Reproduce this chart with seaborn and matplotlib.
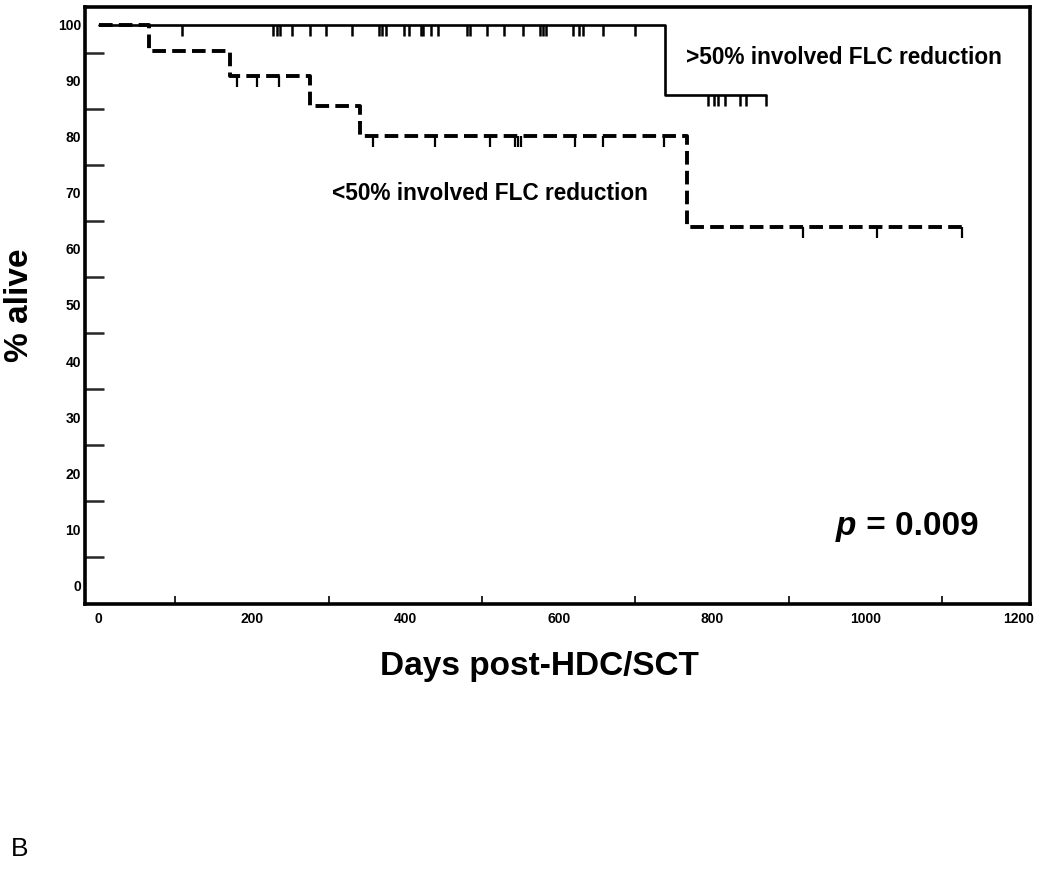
import numpy as np
import pandas as pd
import matplotlib
matplotlib.use('Agg')
import matplotlib.pyplot as plt
import seaborn as sns

# Kaplan-Meier step data
hi_times = [0, 739, 871]
hi_surv = [100, 87.5, 87.5]
hi_censor = [108, 227, 232, 236, 252, 275, 296, 330, 365, 370, 375, 398, 405,
             420, 423, 434, 443, 480, 484, 506, 528, 554, 576, 580, 584, 619,
             626, 632, 658, 700, 795, 802, 808, 817, 836, 845, 871]

lo_times = [0, 66, 171, 275, 341, 767, 1126]
lo_surv = [100, 95.4, 90.9, 85.5, 80.1, 64.0, 64.0]
lo_censor = [180, 207, 235, 358, 438, 510, 543, 547, 551, 621, 658, 737,
             919, 1015, 1126]

x_ticks = [0, 200, 400, 600, 800, 1000, 1200]
y_ticks = [0, 10, 20, 30, 40, 50, 60, 70, 80, 90, 100]


def step_value(times, surv, t):
    idx = np.searchsorted(times, t, side='right') - 1
    return np.array(surv)[idx]


sns.set_style('white')
plt.rcParams['font.family'] = ['Liberation Sans', 'DejaVu Sans']
plt.rcParams['text.color'] = 'black'
plt.rcParams['axes.labelcolor'] = 'black'

fig = plt.figure(figsize=(10.5, 8.73), dpi=100)
ax = fig.add_axes([0.081, 0.308, 0.9, 0.684])

hi_df = pd.DataFrame({'day': hi_times, 'alive': hi_surv})
lo_df = pd.DataFrame({'day': lo_times, 'alive': lo_surv})

sns.lineplot(data=hi_df, x='day', y='alive', drawstyle='steps-post',
             color='black', lw=1.9, ax=ax)
sns.lineplot(data=lo_df, x='day', y='alive', drawstyle='steps-post',
             color='black', lw=2.8, ax=ax)
ax.lines[-1].set_dashes([3.5, 1.6])

# censor marks
ax.plot(hi_censor, step_value(hi_times, hi_surv, hi_censor), ls='none',
        marker=3, ms=8, mew=1.8, color='black')
ax.plot(lo_censor, step_value(lo_times, lo_surv, lo_censor), ls='none',
        marker=3, ms=8, mew=1.6, color='black')

ax.set_xlim(-18, 1215)
ax.set_ylim(-3.4, 103.2)
ax.set_xticks(x_ticks)
ax.set_xticks(np.arange(100, 1200, 200), minor=True)
ax.set_yticks(y_ticks)
ax.set_yticks(np.arange(5, 100, 10), minor=True)
ax.tick_params(axis='both', which='major', direction='in', width=1.8,
               labelsize=10, colors='black')
ax.tick_params(axis='y', which='major', length=14, pad=3)
ax.tick_params(axis='y', which='minor', direction='in', length=14, width=1.8,
               left=True)
ax.tick_params(axis='x', which='major', length=13, pad=6)
ax.tick_params(axis='x', which='minor', direction='in', length=6, width=1.4,
               bottom=True)
for lab in ax.get_yticklabels() + ax.get_xticklabels():
    lab.set_fontweight('bold')

for s in ax.spines.values():
    s.set_linewidth(2.6)
    s.set_color('black')

ax.set_xlabel('Days post-HDC/SCT', fontsize=24, fontweight='bold')
ax.xaxis.set_label_coords(0.481, -0.078)
ax.set_ylabel('% alive', fontsize=24, fontweight='bold', labelpad=16)

ax.text(766, 94.2, '>50% involved FLC reduction', fontsize=16.3,
        fontweight='bold', ha='left', va='center')
ax.text(304, 69.9, '<50% involved FLC reduction', fontsize=16.3,
        fontweight='bold', ha='left', va='center')
p_txt = ax.text(962, 10.4, 'p', fontsize=24, fontweight='bold',
                fontstyle='italic', ha='left', va='center')
ax.annotate(' = 0.009', xy=(1, 0.5), xycoords=p_txt, fontsize=24,
            fontweight='bold', ha='left', va='center')

fig.text(0.01, 0.02, 'B', fontsize=19)

fig.savefig('out.png', dpi=100)
